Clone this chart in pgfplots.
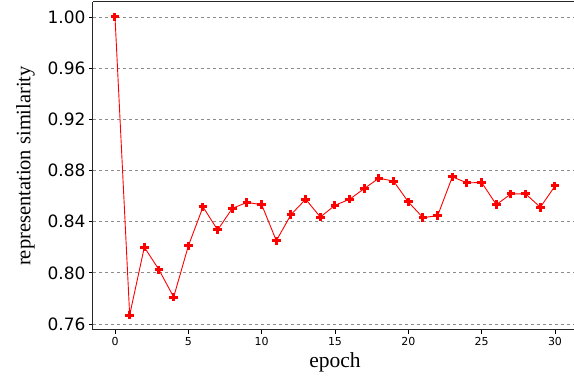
\documentclass[border=0pt]{standalone}
\usepackage{pgfplots}
\pgfplotsset{compat=1.18}
\usepackage{fontspec}
\setmainfont{Liberation Serif}
\newfontfamily\dejavu{DejaVu Sans}
\begin{document}
\begin{tikzpicture}[x=1pt,y=1pt]
\begin{axis}[
  at={(93pt,47pt)}, anchor=south west,
  scale only axis, width=484pt, height=328pt,
  xmin=-1.5, xmax=31.5, ymin=0.7553, ymax=1.0117,
  xtick={0,5,...,30},
  ytick={0.76,0.80,0.84,0.88,0.92,0.96,1.00},
  /pgf/number format/assume math mode=true,
  yticklabel style={font=\dejavu\fontsize{17}{17}\selectfont, /pgf/number format/.cd, fixed, fixed zerofill, precision=2},
  xticklabel style={font=\dejavu\fontsize{11}{11}\selectfont},
  ymajorgrids, grid style={gray!90, dashed, line width=0.8pt},
  tick align=outside, tick pos=left, major tick length=4pt,
  tick style={black, line width=0.8pt},
  axis line style={line width=1pt, black!85},
  axis x line*=bottom, axis y line*=left,
  xlabel={epoch}, ylabel={representation similarity},
  xlabel style={font=\fontsize{21.5}{21.5}\selectfont, yshift=0pt},
  ylabel style={font=\fontsize{20.5}{20.5}\selectfont, yshift=6pt},
  clip=false,
]
\addplot[red, line width=0.9pt, mark=+, mark size=4.2pt, mark options={line width=3pt}] coordinates {
(0,1.000) (1,0.767) (2,0.820) (3,0.8024) (4,0.781) (5,0.821) (6,0.8515) (7,0.8335)
(8,0.8504) (9,0.855) (10,0.8533) (11,0.8251) (12,0.8455) (13,0.8575) (14,0.8436)
(15,0.8528) (16,0.8575) (17,0.8659) (18,0.8740) (19,0.8716) (20,0.8554) (21,0.8431)
(22,0.8447) (23,0.8750) (24,0.8703) (25,0.8706) (26,0.8533) (27,0.8617) (28,0.8617)
(29,0.8512) (30,0.8679)};
\draw[line width=1pt, black!85] (rel axis cs:0,1) -- (rel axis cs:1,1);
\end{axis}
\pgfresetboundingbox
\path (0,0) rectangle (574,377);
\end{tikzpicture}
\end{document}
